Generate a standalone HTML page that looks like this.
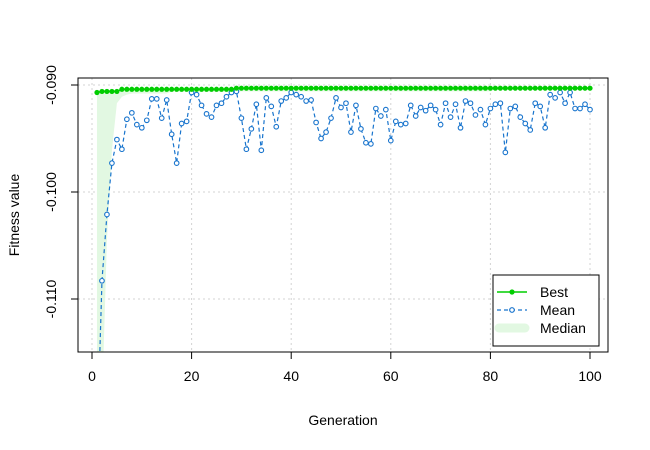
<!DOCTYPE html>
<html><head><meta charset="utf-8"><style>
html,body{margin:0;padding:0;background:#fff;width:650px;height:450px;overflow:hidden;}
svg{display:block;font-family:"Liberation Sans",Arial,sans-serif;}
</style></head><body>
<svg id="chart" width="650" height="450" viewBox="0 0 650 450">
<defs><clipPath id="plotclip"><rect x="78" y="78" width="530" height="274"/></clipPath></defs>
<rect x="0" y="0" width="650" height="450" fill="#fff"/>
<g id="grid"></g>
<g id="series" clip-path="url(#plotclip)"></g>
<rect x="78" y="78" width="530" height="274" fill="none" stroke="#000" stroke-width="1"/>
<g id="axes"></g>
<text x="343" y="425" font-size="14" text-anchor="middle">Generation</text>
<text transform="translate(19,215) rotate(-90)" font-size="14" text-anchor="middle">Fitness value</text>
<g>
<rect x="493" y="275" width="106" height="71" fill="#fff" stroke="#000"/>
<g>
<line x1="497" y1="292" x2="527" y2="292" stroke="#00CD00" stroke-width="1.5"/>
<circle cx="512" cy="292" r="2.6" fill="#00CD00"/>
<text x="540" y="297" font-size="14">Best</text></g>
<g>
<line x1="497" y1="310" x2="527" y2="310" stroke="#1874CD" stroke-width="1.2" stroke-dasharray="4,3"/>
<circle cx="512" cy="310" r="2.3" fill="#fff" stroke="#1874CD" stroke-width="1.2"/>
<text x="540" y="315" font-size="14">Mean</text></g>
<g>
<line x1="499" y1="328" x2="525" y2="328" stroke="#E2F8E2" stroke-width="9" stroke-linecap="round"/>
<text x="540" y="333" font-size="14">Median</text></g>
</g>
</svg>
<script>
const generations = Array.from({length:100},(_, i)=>i+1);
const bestValues = [-0.0907,-0.0906,-0.0906,-0.0906,-0.0906].concat(Array(23).fill(-0.0904)).concat(Array(72).fill(-0.0903));
const meanValues = [-0.1300,-0.1083,-0.1021,-0.0973,-0.0951,-0.0960,-0.0932,-0.0926,-0.0937,-0.0940,
-0.0933,-0.0913,-0.0913,-0.0931,-0.0914,-0.0946,-0.0973,-0.0936,-0.0934,-0.0907,
-0.0909,-0.0919,-0.0927,-0.0930,-0.0919,-0.0917,-0.0911,-0.0907,-0.0906,-0.0931,
-0.0960,-0.0941,-0.0918,-0.0961,-0.0912,-0.0920,-0.0939,-0.0915,-0.0912,-0.0907,
-0.0909,-0.0911,-0.0915,-0.0914,-0.0935,-0.0950,-0.0944,-0.0931,-0.0912,-0.0921,
-0.0917,-0.0944,-0.0919,-0.0941,-0.0954,-0.0955,-0.0922,-0.0929,-0.0923,-0.0952,
-0.0934,-0.0937,-0.0936,-0.0919,-0.0929,-0.0921,-0.0924,-0.0919,-0.0923,-0.0937,
-0.0917,-0.0930,-0.0918,-0.0940,-0.0915,-0.0917,-0.0928,-0.0923,-0.0937,-0.0922,
-0.0918,-0.0917,-0.0963,-0.0922,-0.0920,-0.0930,-0.0936,-0.0942,-0.0917,-0.0920,
-0.0940,-0.0909,-0.0912,-0.0907,-0.0917,-0.0907,-0.0922,-0.0922,-0.0918,-0.0923];
const medianValues = [-0.1300,-0.1200,-0.1045,-0.0961,-0.0917,-0.0911,-0.0909].concat(Array(8).fill(-0.0908)).concat(Array(65).fill(-0.0906)).concat(Array(20).fill(-0.0904));
const xTicks = [0,20,40,60,80,100];
const yTicks = [-0.090,-0.100,-0.110];
const yTickLabels = ["-0.090","-0.100","-0.110"];

const NS="http://www.w3.org/2000/svg";
const xs = g => 92 + 4.98*g;
const ys = v => 85 + (-0.090 - v)/0.001*10.7;
const yc = v => Math.min(449, Math.max(0, ys(v)));
function mk(tag, attrs, parent){const e=document.createElementNS(NS,tag);for(const k in attrs)e.setAttribute(k,attrs[k]);parent.appendChild(e);return e;}
const grid=document.getElementById('grid'), ser=document.getElementById('series'), axes=document.getElementById('axes');
xTicks.forEach(t=>{
  const l=mk('line',{x1:xs(t),x2:xs(t),y1:78,y2:352,stroke:'#d3d3d3','stroke-dasharray':'2,3'},grid);
  
  
  const k=mk('line',{x1:xs(t),x2:xs(t),y1:352,y2:359,stroke:'#000'},axes);
  
  
  const tx=mk('text',{x:xs(t),y:381,'font-size':14,'text-anchor':'middle'},axes);tx.textContent=t;
  
  
});
yTicks.forEach((t,i)=>{
  const l=mk('line',{x1:78,x2:608,y1:ys(t),y2:ys(t),stroke:'#d3d3d3','stroke-dasharray':'2,3'},grid);
  
  
  const k=mk('line',{x1:71,x2:78,y1:ys(t),y2:ys(t),stroke:'#000'},axes);
  
  
  const tx=mk('text',{transform:`translate(56,${ys(t)}) rotate(-90)`,'font-size':14,'text-anchor':'middle'},axes);tx.textContent=yTickLabels[i];
  
  
});
let pts=generations.map((g,i)=>xs(g)+','+yc(medianValues[i]));
pts=pts.concat(generations.slice().reverse().map((g)=>xs(g)+','+yc(bestValues[g-1])));
const band=mk('polygon',{points:pts.join(' '),fill:'#E2F8E2'},ser);


const ml=mk('polyline',{points:generations.map((g,i)=>xs(g)+','+yc(meanValues[i])).join(' '),fill:'none',stroke:'#1874CD','stroke-width':1.2,'stroke-dasharray':'4,3'},ser);


generations.forEach((g,i)=>{
  const c=mk('circle',{cx:xs(g),cy:yc(meanValues[i]),r:2.3,fill:'#fff',stroke:'#1874CD','stroke-width':1.1},ser);
  
  
});
const bl=mk('polyline',{points:generations.map((g,i)=>xs(g)+','+yc(bestValues[i])).join(' '),fill:'none',stroke:'#00CD00','stroke-width':1.5},ser);


generations.forEach((g,i)=>{
  const c=mk('circle',{cx:xs(g),cy:yc(bestValues[i]),r:2.6,fill:'#00CD00'},ser);
  
  
});
</script>
</body></html>
